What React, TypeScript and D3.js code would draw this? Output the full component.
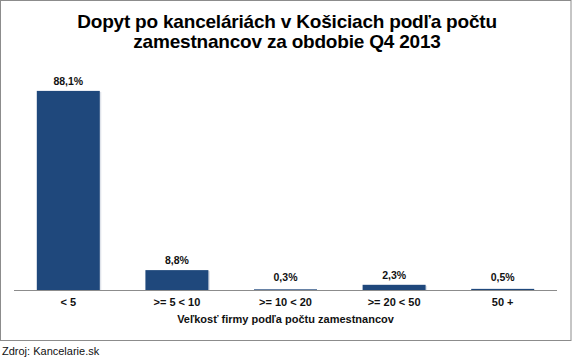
import React from "react";
import * as d3 from "d3";

const categories = ["< 5", ">= 5 < 10", ">= 10 < 20", ">= 20 < 50", "50 +"];
const values = [88.1, 8.8, 0.3, 2.3, 0.5];
const valueLabels = ["88,1%", "8,8%", "0,3%", "2,3%", "0,5%"];
const titleLines = ["Dopyt po kanceláriách v Košiciach podľa počtu", "zamestnancov za obdobie Q4 2013"];
const axisTitle = "Veľkosť firmy podľa počtu zamestnancov";
const sourceText = "Zdroj: Kancelarie.sk";

const W = 573;
const H = 360;
const axisY = 290;
const plotLeft = 14;
const plotRight = 557;

export default function App() {
  const x = d3.scaleBand<string>().domain(categories).range([plotLeft, plotRight]).paddingInner(0.42).paddingOuter(0.21);
  const y = d3.scaleLinear().domain([0, 100]).range([axisY, 64]);
  const font = "Arial, 'Liberation Sans', sans-serif";
  return (
    <svg width={W} height={H} style={{ position: "absolute", left: 0, top: 0, background: "#fff" }} fontFamily={font}>
      <rect x={0.5} y={0.5} width={570.5} height={340} fill="#fff" stroke="#8c8c8c" strokeWidth={1} />
      {titleLines.map((t, i) => (
        <text key={i} x={287} y={28 + i * 20} textAnchor="middle" fontSize={19} fontWeight="bold" fill="#000" letterSpacing={-0.2}>
          {t}
        </text>
      ))}
      {categories.map((c, i) => {
        const bx = x(c)!;
        const top = y(values[i]);
        const h = axisY - top;
        return (
          <g key={c}>
            <rect x={bx + 1.5} y={top + 1} width={x.bandwidth()} height={Math.max(0, h - 1)} fill="#dfe3ea" />
            <rect x={bx} y={top} width={x.bandwidth()} height={h} fill="#1f487c" />
            <text x={bx + x.bandwidth() / 2} y={Math.min(top - 6, 281)} textAnchor="middle" fontSize={10.5} fontWeight="bold" fill="#111">
              {valueLabels[i]}
            </text>
            <text x={bx + x.bandwidth() / 2} y={306} textAnchor="middle" fontSize={11} fontWeight="bold" fill="#111">
              {c}
            </text>
          </g>
        );
      })}
      <line x1={plotLeft} x2={plotRight} y1={axisY + 0.5} y2={axisY + 0.5} stroke="#8c8c8c" strokeWidth={1} />
      <text x={(plotLeft + plotRight) / 2} y={323} textAnchor="middle" fontSize={11} fontWeight="bold" fill="#111">
        {axisTitle}
      </text>
      <text x={2} y={355} fontSize={11} fill="#111">
        {sourceText}
      </text>
    </svg>
  );
}
